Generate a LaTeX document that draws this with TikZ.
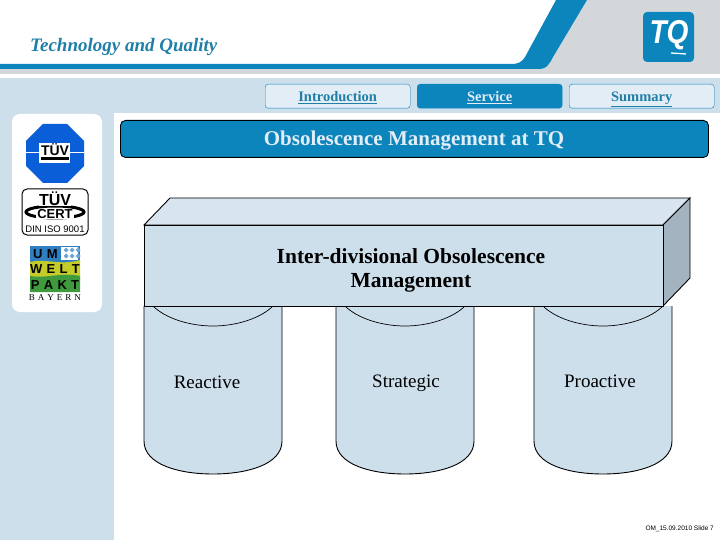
\documentclass[tikz,border=0pt]{standalone}
\usepackage{fontspec}
\setmainfont{Liberation Serif}
\setsansfont{Liberation Sans}
\usetikzlibrary{shapes, calc}
\definecolor{tqblue}{HTML}{0C85BC}
\definecolor{tqteal}{HTML}{1F7FA8}
\definecolor{paleblue}{HTML}{CEDFEC}
\definecolor{topblue}{HTML}{D8E4EF}
\definecolor{tabblue}{HTML}{E3EDF6}
\definecolor{sidegray}{HTML}{A3B3BF}
\definecolor{bandgray}{HTML}{D4D7DA}
\definecolor{logoblue}{HTML}{0A5FD8}
\definecolor{umblue}{HTML}{2F7FC0}
\definecolor{umyellow}{HTML}{C4CC2A}
\definecolor{umgreen}{HTML}{3E9A3C}

\begin{document}
\begin{tikzpicture}[
x=1pt, y=-1pt,
tabbox/.style={rectangle, draw=tqblue, fill=tabblue, rounded corners=3pt, minimum width=145pt, minimum height=24pt, text=tqteal, font=\fontsize{14.5}{15}\selectfont\bfseries, inner sep=0pt, text height=11pt, text depth=1pt},
body/.style={draw=black, line width=0.9pt, fill=paleblue},
pillar/.style={font=\fontsize{19}{20}\selectfont, text=black},
logotext/.style={font=\sffamily\bfseries, inner sep=0pt}
]
\useasboundingbox (0,0) rectangle (720,540);

\fill[paleblue] (0,78) rectangle (720,540);
\fill[white] (114,113) rectangle (720,540);
\fill[bandgray] (0,69) -- (543,69) -- (587,0) -- (720,0) -- (720,74) -- (0,74) -- cycle;
\fill[tqblue] (0,64) -- (512,64) .. controls (518,64) and (522,62) .. (525,57) -- (556,0) -- (587,0) -- (553,57) .. controls (549,65) and (546,69) .. (540,69) -- (0,69) -- cycle;

\node[font=\fontsize{19}{20}\selectfont\bfseries\itshape, text=tqteal, anchor=west, inner sep=0pt] (heading) at (30,47) {Technology and Quality};

\fill[tqblue, rounded corners=4pt] (643,12) rectangle (694,62);
\node[font=\sffamily\bfseries\itshape\fontsize{33}{33}\selectfont, text=white, inner sep=0pt, xscale=0.85] (tqlogo) at (669,35) {TQ};
\draw[white, line width=1.3pt] (671,53) -- (686,54);

\node[tabbox, anchor=north west] (intro) at (265,84) {\underline{Introduction}};
\node[tabbox, anchor=north west, fill=tqblue, text=tabblue] (service) at (417,84) {\underline{Service}};
\node[tabbox, anchor=north west] (summary) at (569,84) {\underline{Summary}};

\node[rectangle, draw=black, fill=tqblue, rounded corners=5pt, line width=0.9pt, minimum width=588pt, minimum height=37pt, anchor=north west, inner sep=0pt] (bar) at (120,120) {};
\node[font=\fontsize{21}{24}\selectfont\bfseries, text=tabblue, inner sep=0pt] (title) at (414,141) {Obsolescence Management at TQ};

\fill[white, rounded corners=8pt] (12,114) rectangle (102,312);

\fill[logoblue] (43,124) -- (67,124) -- (84,141) -- (84,166) -- (67,183) -- (43,183) -- (26,166) -- (26,141) -- cycle;
\draw[white, line width=1pt] (26,153) -- (84,153);
\fill[white] (39,143) rectangle (70,163);
\node[logotext, font=\sffamily\bfseries\fontsize{14}{14}\selectfont] (tuev) at (55,150) {TÜV};
\fill[black] (41,157.5) rectangle (69,160);

\draw[black, line width=1pt, rounded corners=5pt] (22,189) rectangle (88,235);
\draw[black, line width=3pt] (55,212) ellipse [x radius=29pt, y radius=6pt];
\node[logotext, font=\sffamily\bfseries\fontsize{16}{16}\selectfont, fill=white, inner ysep=0pt] (tuevcert) at (55,199) {TÜV};
\node[logotext, font=\sffamily\bfseries\fontsize{13}{13}\selectfont, fill=white, inner xsep=1pt] (cert) at (55,214) {CERT};
\node[font=\sffamily\fontsize{9.5}{10}\selectfont, inner sep=0pt] (din) at (55,229) {DIN ISO 9001};

\fill[umblue] (30,246) rectangle (80,264);
\fill[umyellow] (30,262) .. controls (45,258) and (60,266) .. (80,260) -- (80,278) -- (30,278) -- cycle;
\fill[umgreen] (30,276) .. controls (45,279) and (60,272) .. (80,276) -- (80,292) -- (30,292) -- cycle;
\fill[white] (61,247) rectangle (78,260);
\foreach \dx in {0,1,2}
  \foreach \dy in {0,1}
    \fill[umblue!70] ({63.5+6*\dx},{250+6*\dy}) -- ++(2.5,-2.5) -- ++(2.5,2.5) -- ++(-2.5,2.5) -- cycle;
\node[logotext, font=\sffamily\bfseries\fontsize{13}{13}\selectfont, anchor=west] (um) at (33,254) {U\,\,M};
\node[logotext, font=\sffamily\bfseries\fontsize{13}{13}\selectfont] (welt) at (55,269) {W\,\,E\,\,L\,\,T};
\node[logotext, font=\sffamily\bfseries\fontsize{13}{13}\selectfont] (pakt) at (55,285) {P\,\,A\,\,K\,\,T};
\node[font=\fontsize{9}{9}\selectfont, inner sep=0pt] (bayern) at (55,298) {B\,\,A\,\,Y\,\,E\,\,R\,\,N};

\foreach \cx/\cname/\lx/\ly/\ltext in {213/reactive/207/382/Reactive, 405/strategic/406/383/Strategic, 603/proactive/600/381/Proactive}{
  \draw[body] ({\cx-69},306) -- ({\cx-69},441) .. controls ({\cx-69},465) and ({\cx-33},474) .. (\cx,474) .. controls ({\cx+33},474) and ({\cx+69},465) .. ({\cx+69},441) -- ({\cx+69},306);
  \draw[black, line width=0.7pt] ({\cx-60},306) .. controls ({\cx-48},318) and ({\cx-24},326) .. (\cx,326) .. controls ({\cx+24},326) and ({\cx+48},318) .. ({\cx+60},306);
  \node[pillar] (\cname) at (\lx,\ly) {\ltext};
}

\draw[body, fill=topblue] (144,225) -- (170,198) -- (690,198) -- (663,225) -- cycle;
\draw[body, fill=sidegray] (663,225) -- (690,198) -- (690,278) -- (663,306) -- cycle;
\node[rectangle, draw=black, fill=paleblue, line width=0.9pt, minimum width=519pt, minimum height=81pt, anchor=north west, inner sep=0pt] (beam) at (144,225) {};
\node[font=\fontsize{21.5}{24}\selectfont\bfseries, align=center, inner sep=0pt] (beamtext) at (411,270.5) {Inter-divisional Obsolescence\\Management};

\node[font=\sffamily\fontsize{6.5}{7}\selectfont, anchor=east, inner sep=0pt] (footer) at (714,529) {OM\_15.09.2010 Slide 7};
\end{tikzpicture}
\end{document}
